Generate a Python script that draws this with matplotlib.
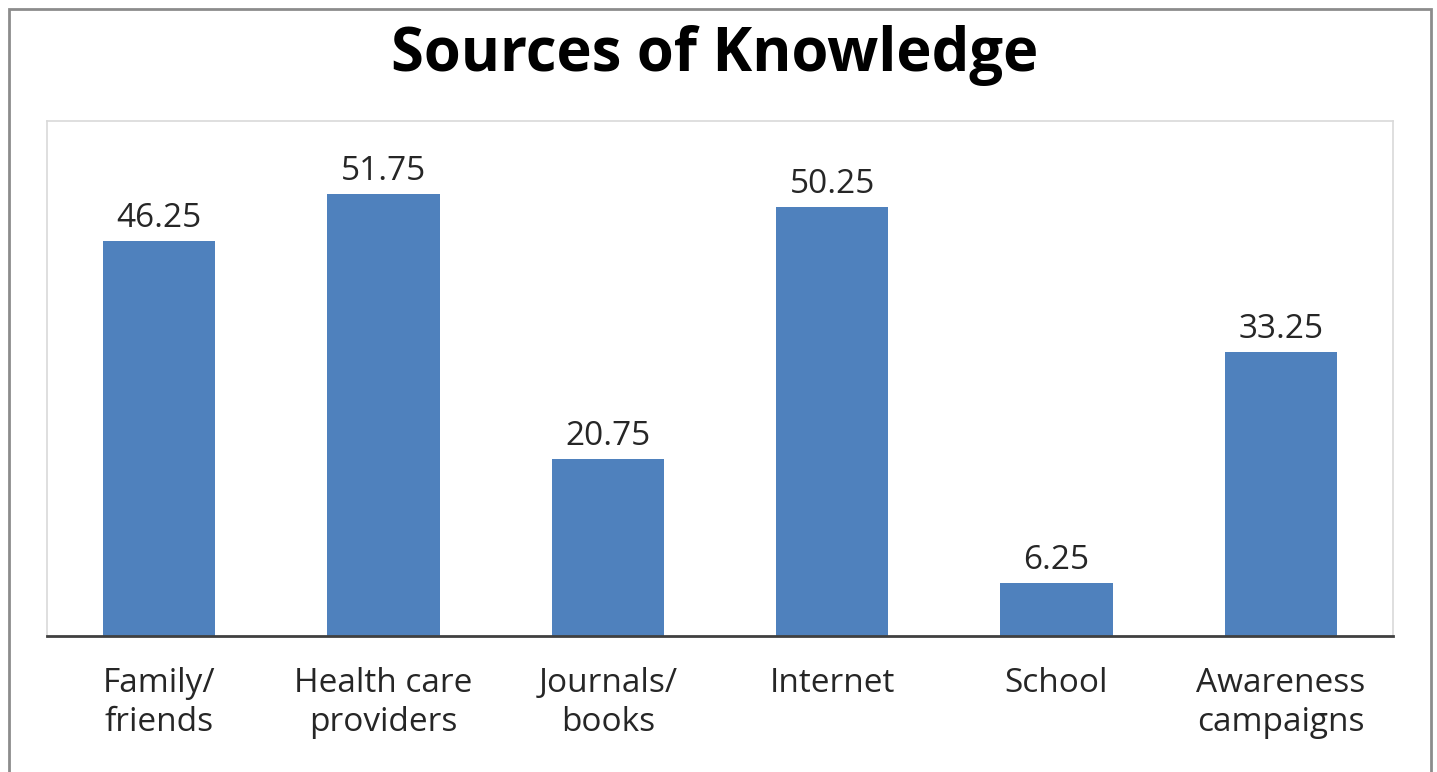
import matplotlib.pyplot as plt
from matplotlib.patches import Rectangle

# data
categories = ['Family/\nfriends', 'Health care\nproviders', 'Journals/\nbooks',
              'Internet', 'School', 'Awareness\ncampaigns']
values = [46.25, 51.75, 20.75, 50.25, 6.25, 33.25]
value_labels = ['46.25', '51.75', '20.75', '50.25', '6.25', '33.25']

plt.rcParams['font.family'] = ['Open Sans', 'DejaVu Sans']

fig = plt.figure(figsize=(14.37, 7.72), dpi=100)
ax = fig.add_axes([0.0327, 0.1762, 0.9367, 0.6671])

x = range(len(categories))
bars = ax.bar(x, values, width=0.5, color='#4F81BD', zorder=2)

for b, lab in zip(bars, value_labels):
    ax.annotate(lab, (b.get_x() + b.get_width() / 2, b.get_height()),
                xytext=(0, 4), textcoords='offset points',
                ha='center', va='bottom', fontsize=24, color='#262626')

ax.set_xlim(-0.5, len(categories) - 0.5)
ax.set_ylim(0, 60.3)
ax.set_yticks([])
ax.set_xticks(list(x))
ax.set_xticklabels(categories, fontsize=24, color='#262626', linespacing=1.25)
ax.tick_params(axis='x', length=0, pad=22)

for s in ['top', 'left', 'right']:
    ax.spines[s].set_color('#d9d9d9')
    ax.spines[s].set_linewidth(1.2)
ax.spines['bottom'].set_color('#404040')
ax.spines['bottom'].set_linewidth(2)
ax.spines['bottom'].set_zorder(3)

fig.text(0.497, 0.928, 'Sources of Knowledge', ha='center', va='center',
         fontsize=43, fontweight='bold', color='black')

# outer chart border
fig.patches.append(Rectangle((9 / 1437, -0.02), 1422 / 1437, 1 - 9 / 772 + 0.02,
                             transform=fig.transFigure, fill=False,
                             edgecolor='#8c8c8c', linewidth=2))

fig.savefig('out.png', dpi=100)
